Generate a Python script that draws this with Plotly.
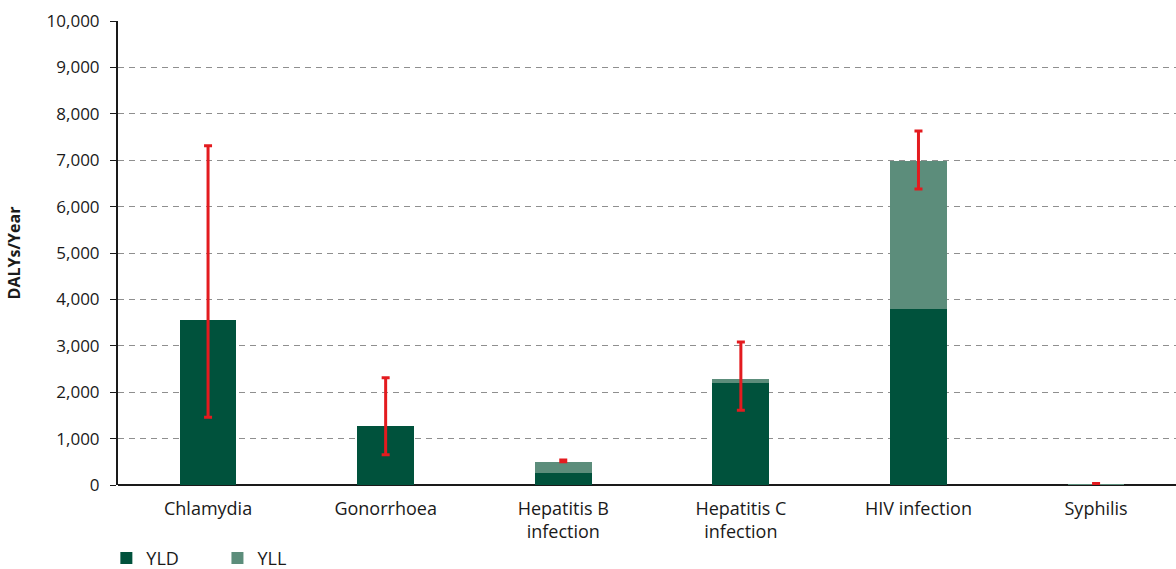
import plotly.graph_objects as go

categories = ["Chlamydia", "Gonorrhoea", "Hepatitis B<br>infection", "Hepatitis C<br>infection", "HIV infection", "Syphilis"]
yld = [3550, 1270, 260, 2200, 3790, 15]
yll = [0, 0, 240, 85, 3190, 5]
err_upper = [7310, 2310, 540, 3080, 7630, 35]
err_lower = [1460, 650, 500, 1610, 6380, 15]

total = [a + b for a, b in zip(yld, yll)]
plus = [u - t for u, t in zip(err_upper, total)]
minus = [t - l for l, t in zip(err_lower, total)]

font = "Open Sans, Noto Sans, sans-serif"

fig = go.Figure()
fig.add_trace(go.Bar(x=categories, y=yld, name="YLD", marker=dict(color="#00523C", line=dict(width=0)),
                     width=0.32, legend="legend"))
fig.add_trace(go.Bar(x=categories, y=yll, name="YLL", marker=dict(color="#5C8D7B", line=dict(width=0)),
                     width=0.32, legend="legend2"))
fig.add_trace(go.Scatter(
    x=categories, y=total, mode="markers", marker=dict(size=0.1, color="rgba(0,0,0,0)"),
    error_y=dict(type="data", symmetric=False, array=plus, arrayminus=minus,
                 color="#E31B1F", thickness=3, width=4),
    showlegend=False, hoverinfo="skip"))

legend_common = dict(orientation="h", xanchor="left", y=-0.118, yanchor="top",
                     font=dict(size=18), itemwidth=30, bgcolor="rgba(0,0,0,0)")

fig.update_layout(
    barmode="stack",
    width=1176, height=569,
    margin=dict(l=118, r=0, t=21, b=84, autoexpand=False),
    plot_bgcolor="white", paper_bgcolor="white",
    font=dict(family=font, size=16, color="#1a1a1a"),
    showlegend=True,
    legend=dict(x=-0.011, **legend_common),
    legend2=dict(x=0.094, **legend_common),
    xaxis=dict(range=[-0.507, 5.45], showline=False, ticks="", tickfont=dict(size=18),
               showgrid=False, automargin=False, ticklabelstandoff=11),
    yaxis=dict(range=[0, 10000], tickvals=list(range(0, 10001, 1000)), tickformat=",",
               showgrid=True, gridcolor="#8f8f8f", griddash="6px,5px", gridwidth=1,
               showline=True, linecolor="#1a1a1a", linewidth=2,
               ticks="outside", ticklen=6, tickcolor="#1a1a1a", tickwidth=1,
               tickfont=dict(size=17), automargin=False, ticklabelstandoff=7,
               zeroline=True, zerolinecolor="#1a1a1a", zerolinewidth=2,
               title=dict(text="<b>DALYs/Year</b>", font=dict(size=16), standoff=22)),
)

fig.write_html("out.html", config={"displayModeBar": False},
               post_script="document.body.style.margin='0';")
